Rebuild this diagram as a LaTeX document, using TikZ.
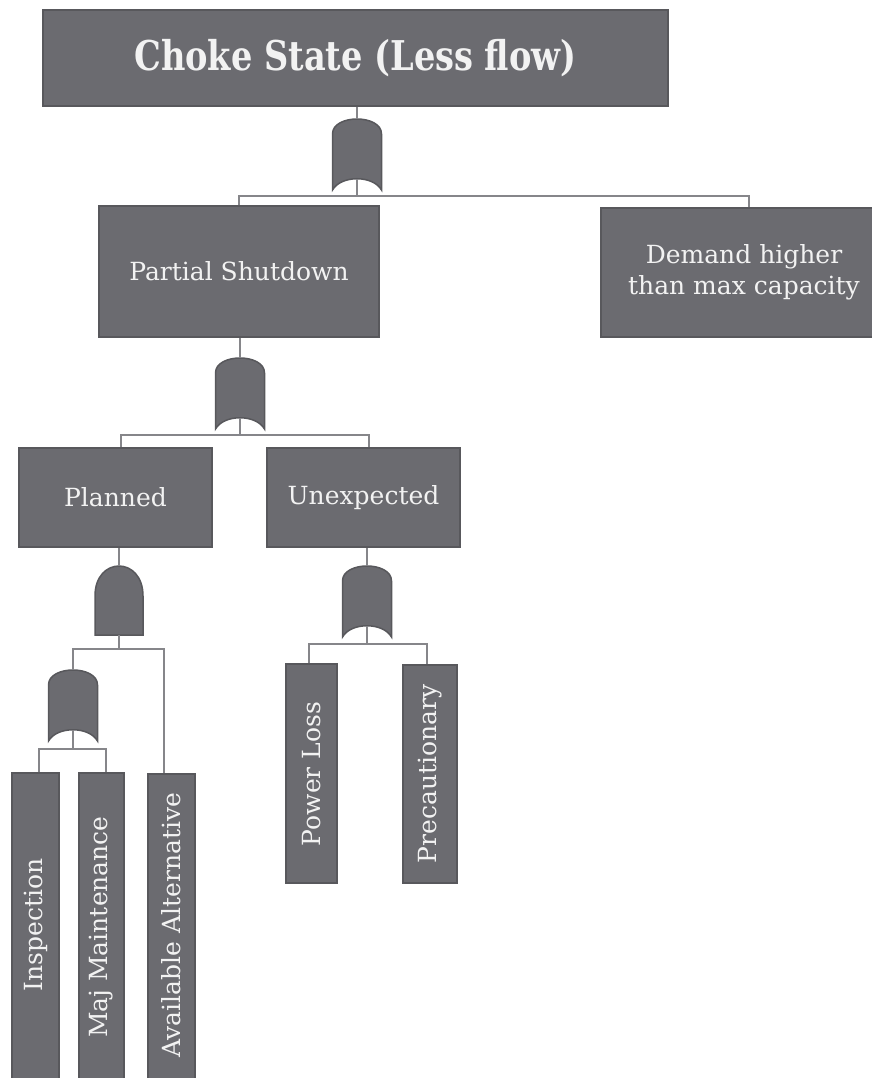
\documentclass[tikz,border=0pt]{standalone}
\usepackage{fontspec}
\setmainfont{DejaVu Serif}
\newfontfamily\titlefont{DejaVu Serif}[FakeStretch=0.82]
\begin{document}
\begin{tikzpicture}[x=1pt,y=-1pt,
  box/.style={draw=boxedge, fill=boxfill, line width=1.5pt, inner sep=0pt,
              text=boxtext, align=center, font=\fontsize{25}{31}\selectfont},
  vlabel/.style={rotate=90, text=boxtext, inner sep=0pt, font=\fontsize{25}{31}\selectfont},
  link/.style={draw=linkgray, line width=2.2pt},
  gate/.style={draw=boxedge, fill=boxfill, line width=1.5pt},
  pics/orgate/.style={code={
    \draw[gate] (-24.5,71) -- (-24.5,15) .. controls (-24.5,-5) and (24.5,-5) .. (24.5,15)
       -- (24.5,71) .. controls (16,56) and (-16,56) .. (-24.5,71) -- cycle;
    \coordinate (-top) at (0,0);
    \coordinate (-in) at (0,59.75);
  }},
  pics/andgate/.style={code={
    \draw[gate] (-24,69) -- (-24,30) .. controls (-24,-10) and (24,-10) .. (24,30)
       -- (24,69) -- cycle;
    \coordinate (-top) at (0,0);
    \coordinate (-in) at (0,69);
  }}
]
\definecolor{boxfill}{HTML}{6B6B70}
\definecolor{boxedge}{HTML}{58585C}
\definecolor{linkgray}{HTML}{86868A}
\definecolor{boxtext}{HTML}{F2F2F2}

\useasboundingbox (0,0) rectangle (872,1078);
\clip (0,0) rectangle (872,1078);

% events
\node[box, minimum width=625pt, minimum height=96pt] (top) at (355.5,58)
  {\titlefont\bfseries\fontsize{41}{48}\selectfont Choke State (Less flow)};
\node[box, minimum width=280pt, minimum height=131pt] (ps) at (239,271.5) {Partial Shutdown};
\node[box, minimum width=296pt, minimum height=129pt] (dem) at (749,272.5)
  {\hspace*{-10pt}Demand higher\\\hspace*{-10pt}than max capacity};
\node[box, minimum width=193pt, minimum height=99pt] (pl) at (115.5,497.5) {Planned};
\node[box, minimum width=193pt, minimum height=99pt] (un) at (363.5,497.5) {Unexpected};

% basic events (vertical)
\node[box, minimum width=47pt, minimum height=310pt] (ins) at (35.5,928) {};
\node[vlabel] (ins-t) at (35.5,925) {Inspection};
\node[box, minimum width=45pt, minimum height=310pt] (maj) at (101.5,928) {};
\node[vlabel] (maj-t) at (101.5,927) {Maj Maintenance};
\node[box, minimum width=47pt, minimum height=309pt] (alt) at (171.5,928.5) {};
\node[vlabel] (alt-t) at (171.5,925) {Available Alternative};
\node[box, minimum width=51pt, minimum height=219pt] (pwr) at (311.5,773.5) {};
\node[vlabel] (pwr-t) at (311.5,774) {Power Loss};
\node[box, minimum width=54pt, minimum height=218pt] (pre) at (430,774) {};
\node[vlabel] (pre-t) at (430,774) {Precautionary};

% gates
\pic (g1) at (357,119) {orgate};
\pic (g2) at (240,358) {orgate};
\pic (g3) at (119,566) {andgate};
\pic (g4) at (73,670) {orgate};
\pic (g5) at (367,566) {orgate};

% junctions under gates
\coordinate (j1) at (357,196);
\coordinate (j2) at (240,435);
\coordinate (j3) at (119,649);
\coordinate (j4) at (73,749);
\coordinate (j5) at (367,644);

% connectors
\draw[link] (top.south -| g1-top) -- (g1-top);
\draw[link] (g1-in) -- (j1);
\draw[link] (ps.north) |- (j1) -| (dem.north);

\draw[link] (ps.south -| g2-top) -- (g2-top);
\draw[link] (g2-in) -- (j2);
\draw[link] ([xshift=5.5pt]pl.north) |- (j2) -| ([xshift=5.5pt]un.north);

\draw[link] (pl.south -| g3-top) -- (g3-top);
\draw[link] (g3-in) -- (j3);
\draw[link] (g4-top) |- (j3) -| ([xshift=-7.5pt]alt.north);

\draw[link] (g4-in) -- (j4);
\draw[link] ([xshift=3.5pt]ins.north) |- (j4) -| ([xshift=4.5pt]maj.north);

\draw[link] (un.south -| g5-top) -- (g5-top);
\draw[link] (g5-in) -- (j5);
\draw[link] ([xshift=-2.5pt]pwr.north) |- (j5) -| ([xshift=-3pt]pre.north);
\end{tikzpicture}
\end{document}
